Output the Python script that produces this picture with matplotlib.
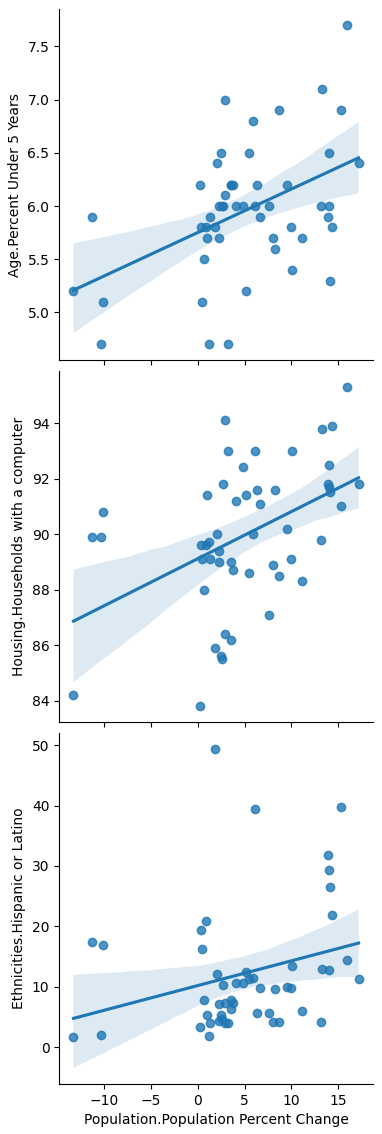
import matplotlib
matplotlib.use('Agg')
from matplotlib import pyplot as plt
import pandas as pd
import seaborn as sns

# values (one row per state)
pop_change = [15.93, 13.25, 13.14, 2.96, 2.96, 8.64, 15.29, 5.86,
              2.43, 2.30, 2.64, 2.25, 2.55, 5.43,
              14.39, 14.11, 13.89, 14.0, 14.0, 2.0, 17.21,
              0.25, 0.36, 3.25, 3.54, 3.60, 3.75, 6.29, 9.5,
              4.04, 4.79, 6.07, 7.57, -11.29, 1.25, 6.61,
              0.89, 0.93, 1.82, 9.93, 8.0, 11.18, 8.29, 0.71,
              10.04, -13.32, 5.18, -10.21, 0.46, -10.32, 1.14]
under5 = [7.7, 7.1, 6.0, 7.0, 6.1, 6.9, 6.9, 6.8,
          6.5, 6.0, 6.0, 5.7, 6.0, 6.5,
          5.8, 5.3, 5.9, 6.5, 6.0, 6.4, 6.4,
          6.2, 5.8, 4.7, 6.2, 6.2, 6.2, 6.2, 6.2,
          6.0, 6.0, 6.0, 6.0, 5.9, 5.9, 5.9,
          5.8, 5.7, 5.8, 5.8, 5.7, 5.7, 5.6, 5.5,
          5.4, 5.2, 5.2, 5.1, 5.1, 4.7, 4.7]
computer = [95.3, 93.8, 89.8, 94.1, 86.4, 88.5, 91.0, 90.0,
            85.6, 89.4, 91.8, 89.0, 85.5, 88.6,
            93.9, 91.5, 91.8, 92.5, 91.7, 90.0, 91.8,
            83.8, 89.6, 93.0, 89.0, 86.2, 88.7, 91.6, 90.2,
            91.2, 92.4, 93.0, 87.1, 89.9, 89.1, 91.1,
            89.6, 91.4, 85.9, 89.1, 88.9, 88.3, 91.6, 88.0,
            93.0, 84.2, 91.4, 90.8, 89.1, 89.9, 89.7]
hispanic = [14.5, 12.9, 4.2, 7.3, 4.0, 4.2, 39.8, 11.4,
            5.3, 4.3, 10.2, 7.2, 4.7, 11.2,
            21.8, 26.5, 31.8, 29.3, 12.8, 12.1, 11.3,
            3.3, 19.4, 4.0, 7.8, 6.3, 7.3, 5.7, 10.0,
            10.6, 10.6, 39.4, 5.7, 17.4, 4.0, 9.8,
            20.9, 5.3, 49.4, 9.8, 4.2, 6.0, 9.6, 7.8,
            13.5, 1.7, 12.5, 16.9, 16.3, 2.0, 1.8]

df = pd.DataFrame({
    'Population.Population Percent Change': pop_change,
    'Age.Percent Under 5 Years': under5,
    'Housing.Households with a computer': computer,
    'Ethnicities.Hispanic or Latino': hispanic,
})

g = sns.pairplot(
    df,
    x_vars=['Population.Population Percent Change'],
    y_vars=['Age.Percent Under 5 Years',
            'Housing.Households with a computer',
            'Ethnicities.Hispanic or Latino'],
    kind='reg',
    plot_kws={'seed': 0},
)

g.figure.set_size_inches(3.82, 11.34)
g.figure.subplots_adjust(left=0.155, right=0.976, top=0.992, bottom=0.044, hspace=0.03)

g.figure.savefig('out.png', dpi=100)
